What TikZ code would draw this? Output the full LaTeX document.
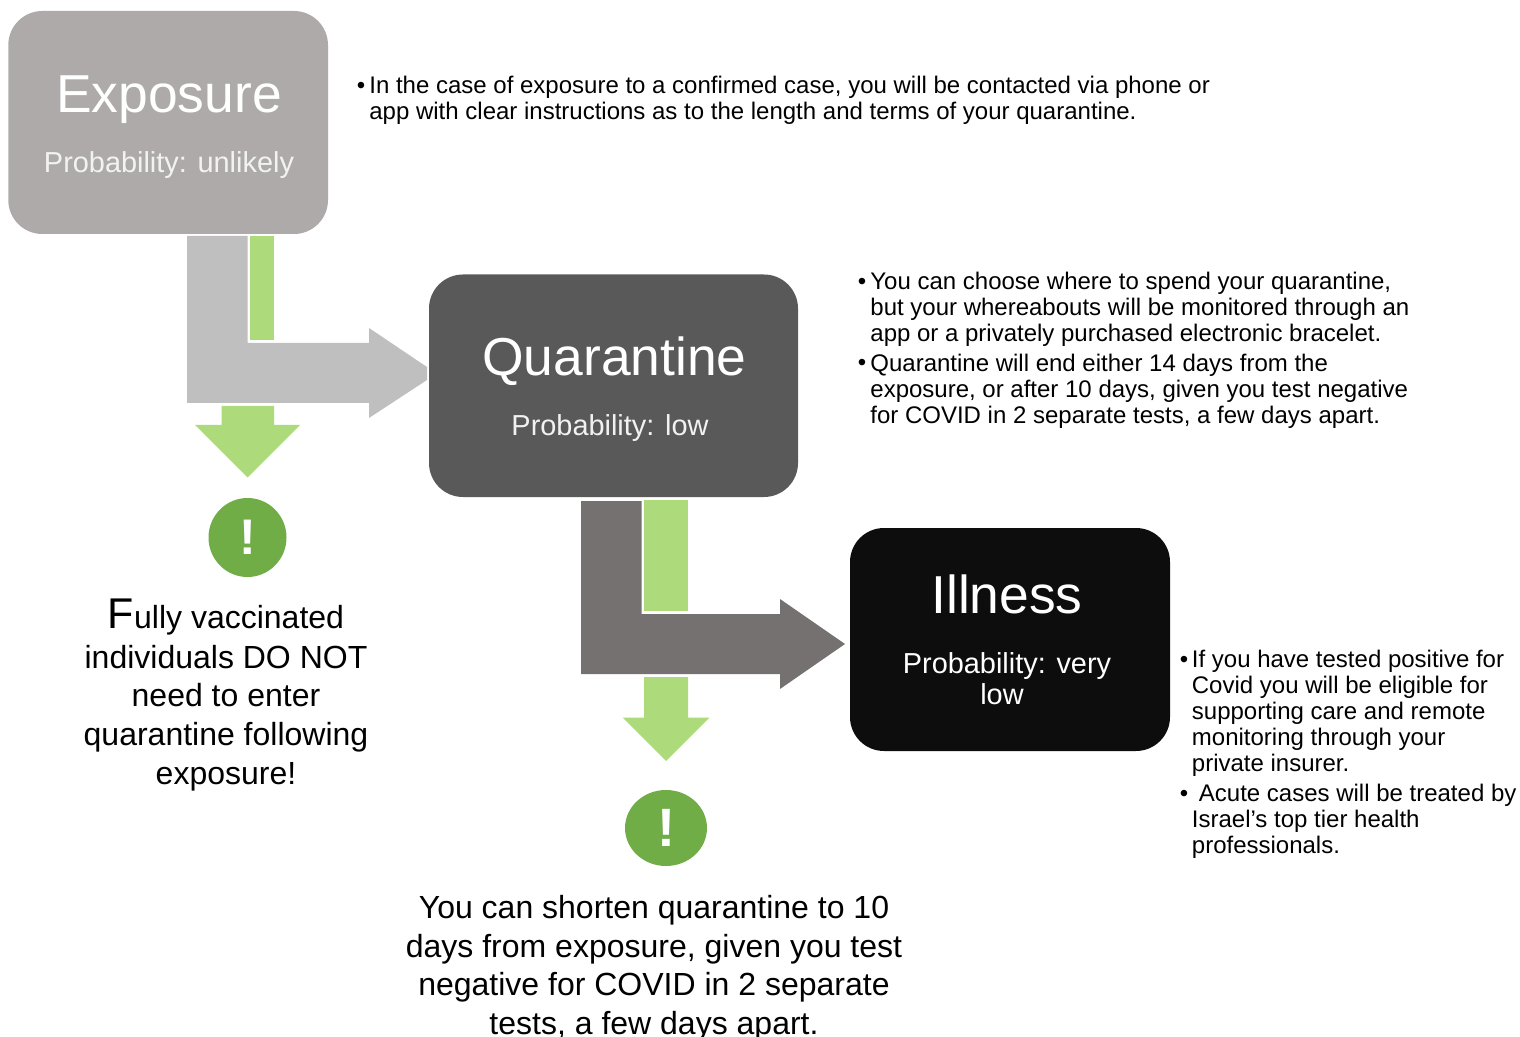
\documentclass[tikz,border=0pt]{standalone}
\usetikzlibrary{shapes.geometric}
\usepackage{fontspec}
\setmainfont{Liberation Sans}
\newcommand{\fs}[2]{\fontsize{#1}{#2}\selectfont}
\definecolor{boxa}{HTML}{AEAAAA}
\definecolor{boxb}{HTML}{595959}
\definecolor{boxc}{HTML}{0D0D0D}
\definecolor{arra}{HTML}{BFBFBF}
\definecolor{arrb}{HTML}{767171}
\definecolor{lgreen}{HTML}{ADDB7B}
\definecolor{dgreen}{HTML}{70AD47}
\tikzset{x=0.5pt,y=-0.5pt,
 stage/.style={rounded corners=17pt,minimum width=0pt},
 ctext/.style={align=center,inner sep=0pt,text=black,anchor=base},
 note/.style={align=left,inner sep=0pt,anchor=base west,text=black,font=\fs{12}{13}},
 blt/.style={inner sep=0pt,anchor=base,font=\fs{12}{13}},
 ttl/.style={ctext,text=white,font=\fs{26.7}{26.7}},
 prob/.style={ctext,text=white,font=\fs{14.45}{15.5}},
 call/.style={ctext,font=\fs{16}{19.3}},
 circ/.style={ellipse,fill=dgreen,inner sep=0pt,text=white,font=\fs{25}{25}\bfseries}}
\begin{document}
\begin{tikzpicture}
\useasboundingbox (0,0) rectangle (1520,1037);
% boxes
\fill[boxa,stage] (8.3,11) rectangle (328,234);
\fill[boxb,stage] (429,274.5) rectangle (798,497);
\fill[boxc,stage] (850,528) rectangle (1170,751);
% bent arrows
\fill[arra] (187,236) -- (247.5,236) -- (247.5,343) -- (369,343) -- (369,328) -- (427,367) -- (427,380) -- (369,418) -- (369,403) -- (187,403) -- cycle;
\fill[lgreen] (250,236) rectangle (274,340);
\fill[lgreen] (221.5,406) -- (274,406) -- (274,425) -- (300,425) -- (247.5,477.5) -- (195,425) -- (221.5,425) -- cycle;
\fill[arrb] (581,501) -- (641.5,501) -- (641.5,614) -- (780,614) -- (780,599) -- (845,644) -- (780,689) -- (780,674) -- (581,674) -- cycle;
\fill[lgreen] (644,500) rectangle (688,611);
\fill[lgreen] (644,677) -- (688,677) -- (688,717.5) -- (709.5,717.5) -- (666,761) -- (622.5,717.5) -- (644,717.5) -- cycle;
% circles
\node[circ,minimum width=39pt,minimum height=39.5pt] (c1) at (247.5,537.5) {!};
\node[circ,minimum width=41pt,minimum height=38pt,font=\fs{27}{27}\bfseries] (c2) at (666,828) {!};
% box text
\node[ttl] (t1) at (169,113) {Exposure};
\node[prob,opacity=.85] (p1) at (169,173) {Probability: unlikely};
\node[ttl] (t2) at (614.5,376) {Quarantine};
\node[prob,opacity=.92] (p2) at (610,436) {Probability: low};
\node[ttl] (t3) at (1007,613) {Illness};
\node[prob] (p3) at (1007,704) {Probability: very\\low\kern5pt\mbox{}};
% notes
\node[note] (n1) at (369,120) {In the case of exposure to a confirmed case, you will be contacted via phone or\\app with clear instructions as to the length and terms of your quarantine.};
\node[blt] (b1) at (361,94) {•};
\node[note] (n2) at (870,342) {You can choose where to spend your quarantine,\\but your whereabouts will be monitored through an\\app or a privately purchased electronic bracelet.};
\node[blt] (b2) at (862,290) {•};
\node[note] (n3) at (870,423) {Quarantine will end either 14 days from the\\exposure, or after 10 days, given you test negative\\for COVID in 2 separate tests, a few days apart.};
\node[blt] (b3) at (862,371) {•};
\node[note] (n4) at (1191.5,771) {If you have tested positive for\\Covid you will be eligible for\\supporting care and remote\\monitoring through your\\private insurer.};
\node[blt] (b4) at (1184,667) {•};
\node[note] (n5) at (1198.5,801) {Acute cases will be treated by};
\node[note] (n5b) at (1191.5,853) {Israel’s top tier health\\professionals.};
\node[blt] (b5) at (1184,801) {•};
% callouts
\node[call] (v) at (226,784) {{\fs{21.5}{19.3}F}ully vaccinated\\[0.5pt]individuals DO NOT\\need to enter\\quarantine following\\exposure!};
\node[call] (s) at (654,1034.5) {You can shorten quarantine to 10\\days from exposure, given you test\\negative for COVID in 2 separate\\tests, a few days apart.};
\end{tikzpicture}
\end{document}
